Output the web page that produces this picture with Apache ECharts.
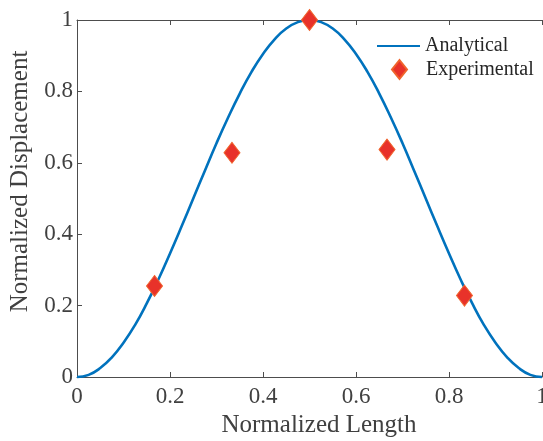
<!DOCTYPE html>
<html>
<head>
<meta charset="utf-8">
<script src="https://cdn.jsdelivr.net/npm/echarts@6/dist/echarts.min.js"></script>
<style>html,body{margin:0;padding:0;background:#fff;}#c{width:543px;height:441px;}</style>
</head>
<body>
<div id="c"></div>
<script>
// Analytical curve
const analyticalX = [0,0.025,0.05,0.075,0.1,0.125,0.15,0.175,0.2,0.225,0.25,0.275,0.3,0.325,0.35,0.375,0.4,0.425,0.45,0.475,0.5,0.525,0.55,0.575,0.6,0.625,0.65,0.675,0.7,0.725,0.75,0.775,0.8,0.825,0.85,0.875,0.9,0.925,0.95,0.975,1];
const analyticalY = [0,0.006,0.025,0.055,0.096,0.146,0.206,0.273,0.346,0.422,0.5,0.578,0.655,0.727,0.794,0.854,0.905,0.946,0.976,0.994,1,0.994,0.976,0.946,0.905,0.854,0.794,0.727,0.655,0.578,0.5,0.422,0.346,0.273,0.206,0.146,0.096,0.055,0.025,0.006,0];
// Experimental points
const expX = [0.1667,0.3333,0.5,0.6667,0.8333];
const expY = [0.255,0.628,1.0,0.637,0.228];
const xTicks = [0,0.2,0.4,0.6,0.8,1];
const yTicks = [0,0.2,0.4,0.6,0.8,1];

const font = '"Liberation Serif", "Times New Roman", serif';
const axisColor = '#4d4d4d';
const chart = echarts.init(document.getElementById('c'));
const fmt = v => (v === 0 ? '0' : v === 1 ? '1' : String(v));
chart.setOption({
  animation: false,
  grid: {left: 77, right: 1, top: 20, bottom: 64, containLabel: false, outerBoundsMode: 'none'},
  legend: [{
    orient: 'vertical', left: 377, top: 36, padding: 0,
    itemWidth: 43, itemHeight: 20,
    textStyle: {fontFamily: font, fontSize: 20, color: '#262626'},
    data: [{name: 'Analytical', icon: 'path://M0,9 L44,9 L44,11 L0,11 Z'}]
  }, {
    orient: 'vertical', left: 391, top: 59, padding: 0,
    itemWidth: 15, itemHeight: 19,
    textStyle: {fontFamily: font, fontSize: 20, color: '#262626', padding: [0, 0, 0, 14]},
    data: [{name: 'Experimental'}]
  }],
  xAxis: [{
    type: 'value', min: 0, max: 1, interval: 0.2,
    name: 'Normalized Length', nameLocation: 'middle', nameGap: 33,
    nameTextStyle: {fontFamily: font, fontSize: 25, color: '#404040', padding: [0, 0, 0, 19]},
    axisLine: {show: true, lineStyle: {color: axisColor, width: 1}},
    axisTick: {show: true, inside: true, length: 5, lineStyle: {color: axisColor}},
    axisLabel: {fontFamily: font, fontSize: 23, color: '#404040', margin: 8, formatter: fmt},
    splitLine: {show: false}
  }, {
    type: 'value', min: 0, max: 1, interval: 0.2, position: 'top',
    axisLine: {show: true, lineStyle: {color: axisColor, width: 1}},
    axisTick: {show: true, inside: true, length: 5, lineStyle: {color: axisColor}},
    axisLabel: {show: false}, splitLine: {show: false}
  }],
  yAxis: [{
    type: 'value', min: 0, max: 1, interval: 0.2,
    name: 'Normalized Displacement', nameLocation: 'middle', nameGap: 35,
    nameTextStyle: {fontFamily: font, fontSize: 25, color: '#404040', padding: [0, 0, 0, 34]},
    axisLine: {show: true, lineStyle: {color: axisColor, width: 1}},
    axisTick: {show: true, inside: true, length: 5, lineStyle: {color: axisColor}},
    axisLabel: {fontFamily: font, fontSize: 23, color: '#404040', margin: 4, formatter: fmt},
    splitLine: {show: false}
  }],
  series: [{
    name: 'Analytical', type: 'line', smooth: true, showSymbol: false,
    data: analyticalX.map((x, i) => [x, analyticalY[i]]),
    lineStyle: {color: '#0072BD', width: 2.6}, itemStyle: {color: '#0072BD'},
    clip: false
  }, {
    name: 'Experimental', type: 'scatter',
    data: expX.map((x, i) => [x, expY[i]]),
    symbol: 'diamond', symbolSize: [16, 21],
    itemStyle: {color: '#E8322A', borderColor: '#F0642C', borderWidth: 1, opacity: 1},
    z: 5, clip: false
  }]
});
</script>
</body>
</html>
